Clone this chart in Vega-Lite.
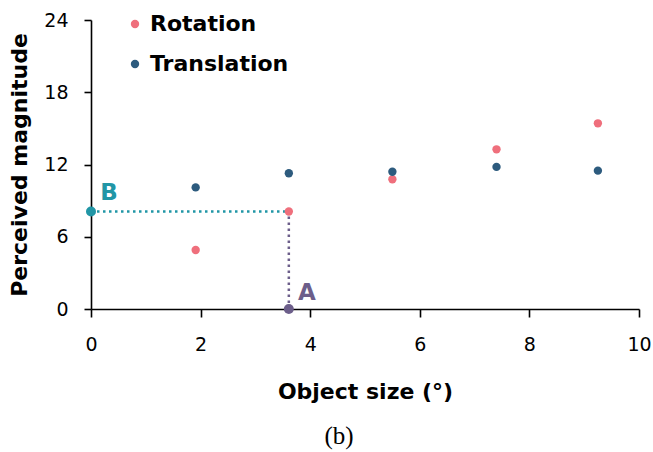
{
  "$schema": "https://vega.github.io/schema/vega-lite/v6.json",
  "width": 548,
  "height": 289,
  "autosize": {"type": "none"},
  "padding": {"left": 91, "top": 20, "right": 14, "bottom": 143},
  "background": "white",
  "config": {
    "view": {"stroke": null},
    "font": "DejaVu Sans"
  },
  "title": {
    "text": "(b)",
    "orient": "bottom",
    "anchor": "middle",
    "frame": "group",
    "dx": -26,
    "offset": 22,
    "font": "Liberation Serif",
    "fontSize": 25,
    "fontWeight": "normal",
    "color": "#000000"
  },
  "datasets": {
    "points": [
      {"series": "Rotation", "size": 1.91, "magnitude": 4.9},
      {"series": "Rotation", "size": 3.61, "magnitude": 8.1},
      {"series": "Rotation", "size": 5.5, "magnitude": 10.77},
      {"series": "Rotation", "size": 7.4, "magnitude": 13.26},
      {"series": "Rotation", "size": 9.25, "magnitude": 15.42},
      {"series": "Translation", "size": 1.91, "magnitude": 10.1},
      {"series": "Translation", "size": 3.61, "magnitude": 11.27},
      {"series": "Translation", "size": 5.5, "magnitude": 11.4},
      {"series": "Translation", "size": 7.4, "magnitude": 11.8},
      {"series": "Translation", "size": 9.25, "magnitude": 11.49}
    ],
    "markers": [
      {"label": "A", "size": 3.61, "magnitude": 0},
      {"label": "B", "size": 0, "magnitude": 8.1}
    ],
    "guides": [
      {"guide": "h", "x": 0, "x2": 3.61, "y": 8.1, "y2": 8.1},
      {"guide": "v", "x": 3.61, "x2": 3.61, "y": 0, "y2": 8.1}
    ]
  },
  "layer": [
    {
      "data": {"name": "guides"},
      "transform": [{"filter": "datum.guide == 'h'"}],
      "mark": {"type": "rule", "color": "#2196A6", "strokeWidth": 2.5, "strokeDash": [2.5, 3.5]},
      "encoding": {
        "x": {"field": "x", "type": "quantitative", "scale": {"domain": [0, 10]}},
        "x2": {"field": "x2"},
        "y": {"field": "y", "type": "quantitative", "scale": {"domain": [0, 24]}}
      }
    },
    {
      "data": {"name": "guides"},
      "transform": [{"filter": "datum.guide == 'v'"}],
      "mark": {"type": "rule", "color": "#6C5E8A", "strokeWidth": 2.5, "strokeDash": [2.5, 3.5]},
      "encoding": {
        "x": {"field": "x", "type": "quantitative"},
        "y": {"field": "y", "type": "quantitative"},
        "y2": {"field": "y2"}
      }
    },
    {
      "data": {"name": "points"},
      "mark": {"type": "circle", "size": 70, "opacity": 1},
      "encoding": {
        "x": {
          "field": "size", "type": "quantitative",
          "scale": {"domain": [0, 10], "nice": false},
          "axis": {
            "title": "Object size (°)",
            "values": [0, 2, 4, 6, 8, 10],
            "grid": false,
            "labelFlush": false,
            "domainColor": "#000000", "domainWidth": 1.6,
            "tickColor": "#000000", "tickWidth": 1.6, "tickSize": 8,
            "labelFont": "DejaVu Sans", "labelFontSize": 19, "labelColor": "#000000", "labelPadding": 18,
            "titleFont": "DejaVu Sans", "titleFontSize": 22, "titleFontWeight": "bold", "titleColor": "#000000", "titlePadding": 27
          }
        },
        "y": {
          "field": "magnitude", "type": "quantitative",
          "scale": {"domain": [0, 24], "nice": false},
          "axis": {
            "title": "Perceived magnitude",
            "values": [0, 6, 12, 18, 24],
            "grid": false,
            "domainColor": "#000000", "domainWidth": 1.6,
            "tickColor": "#000000", "tickWidth": 1.6, "tickSize": 7,
            "labelFont": "DejaVu Sans", "labelFontSize": 19, "labelColor": "#000000", "labelPadding": 16,
            "titleFont": "DejaVu Sans", "titleFontSize": 22, "titleFontWeight": "bold", "titleColor": "#000000", "titlePadding": 12
          }
        },
        "color": {
          "field": "series", "type": "nominal",
          "scale": {"domain": ["Rotation", "Translation"], "range": ["#EF6F7C", "#2D5B7E"]},
          "legend": {
            "title": null,
            "orient": "none",
            "legendX": 33,
            "legendY": -7,
            "symbolType": "circle",
            "symbolSize": 70,
            "symbolStrokeWidth": 0,
            "labelFont": "DejaVu Sans",
            "labelFontSize": 22,
            "labelFontWeight": "bold",
            "labelColor": "#000000",
            "labelOffset": 4,
            "rowPadding": 18
          }
        }
      }
    },
    {
      "data": {"name": "markers"},
      "transform": [{"filter": "datum.label == 'A'"}],
      "layer": [
        {"mark": {"type": "circle", "size": 100, "opacity": 1, "color": "#6C5E8A"}},
        {"mark": {"type": "text", "dx": 18, "dy": -16, "font": "DejaVu Sans", "fontSize": 23, "fontWeight": "bold", "color": "#6C5E8A", "align": "center", "baseline": "middle"},
         "encoding": {"text": {"field": "label"}}}
      ],
      "encoding": {
        "x": {"field": "size", "type": "quantitative"},
        "y": {"field": "magnitude", "type": "quantitative"}
      }
    },
    {
      "data": {"name": "markers"},
      "transform": [{"filter": "datum.label == 'B'"}],
      "layer": [
        {"mark": {"type": "circle", "size": 100, "opacity": 1, "color": "#2196A6"}},
        {"mark": {"type": "text", "dx": 18, "dy": -18, "font": "DejaVu Sans", "fontSize": 23, "fontWeight": "bold", "color": "#2196A6", "align": "center", "baseline": "middle"},
         "encoding": {"text": {"field": "label"}}}
      ],
      "encoding": {
        "x": {"field": "size", "type": "quantitative"},
        "y": {"field": "magnitude", "type": "quantitative"}
      }
    }
  ]
}
